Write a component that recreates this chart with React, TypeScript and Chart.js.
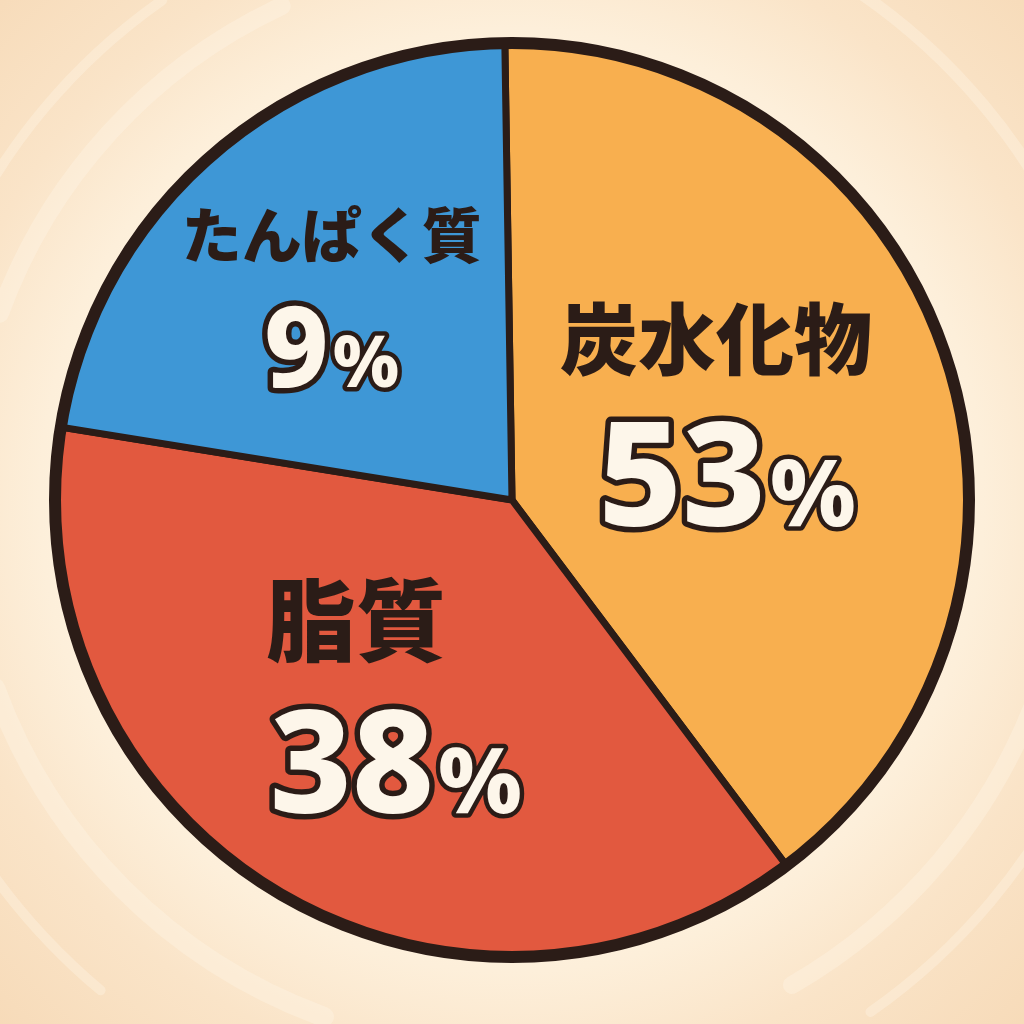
import React, { useEffect, useRef } from "react";
import { Chart, registerables } from "chart.js";

Chart.register(...registerables);

// Slice names and printed percentages (as written on the chart)
const categories = ["炭水化物", "脂質", "たんぱく質"];
const printedPercent = ["53", "38", "9"];
// Slice shares as drawn in the picture (measured angles, in % of the circle)
const sliceShares = [40.0, 37.8, 22.2];
const sliceColors = ["#F8AF4F", "#E2593F", "#3E97D6"];

const INK = "#2B1C17";
const CREAM = "#FDF6EA";

// label layout per slice
const labelLayout = [
  { dAng: -5.1, rFrac: 0.503, nameSize: 78, nameDx: -6, nameDy: -67, pctDx: 5, digitSize: 145, baseDy: 119 },
  { dAng: 4.5, rFrac: 0.511, nameSize: 90, nameDx: -20, nameDy: -70, pctDx: 20, digitSize: 142, baseDy: 123 },
  { dAng: 0, rFrac: 0.603, nameSize: 60, nameDx: 0, nameDy: -56, pctDx: 0, digitSize: 112, baseDy: 95 },
];

const bgPlugin = {
  id: "bgPlugin",
  beforeDraw(chart: any) {
    const ctx = chart.ctx;
    const w = chart.width, h = chart.height;
    const arc = chart.getDatasetMeta(0).data[0];
    const cx = arc.x, cy = arc.y;
    ctx.save();
    const g = ctx.createRadialGradient(cx, cy, 400, cx, cy, 760);
    g.addColorStop(0, "#FEF3E1");
    g.addColorStop(0.2, "#FDEFDA");
    g.addColorStop(0.5, "#FAE4C8");
    g.addColorStop(1, "#F6D9B6");
    ctx.fillStyle = g;
    ctx.fillRect(0, 0, w, h);
    const swirls = [
      { r: 545, a0: 200, a1: 245, lw: 18 },
      { r: 610, a0: 205, a1: 235, lw: 10 },
      { r: 560, a0: 20, a1: 60, lw: 18 },
      { r: 625, a0: 25, a1: 55, lw: 10 },
      { r: 550, a0: 110, a1: 160, lw: 20 },
      { r: 615, a0: 300, a1: 340, lw: 12 },
      { r: 640, a0: 130, a1: 150, lw: 10 },
    ];
    ctx.strokeStyle = "rgba(255,246,232,0.35)";
    ctx.lineCap = "round";
    for (const s of swirls) {
      ctx.lineWidth = s.lw;
      ctx.beginPath();
      ctx.arc(cx, cy, s.r, (s.a0 * Math.PI) / 180, (s.a1 * Math.PI) / 180);
      ctx.stroke();
    }
    ctx.restore();
  },
};

const ringPlugin = {
  id: "ringPlugin",
  afterDatasetsDraw(chart: any) {
    const ctx = chart.ctx;
    const arc = chart.getDatasetMeta(0).data[0];
    ctx.save();
    ctx.strokeStyle = INK;
    ctx.lineWidth = 12;
    ctx.beginPath();
    ctx.arc(arc.x, arc.y, arc.outerRadius, 0, Math.PI * 2);
    ctx.stroke();
    ctx.restore();
  },
};

const labelPlugin = {
  id: "labelPlugin",
  afterDraw(chart: any) {
    const ctx = chart.ctx;
    const arcs = chart.getDatasetMeta(0).data;
    ctx.save();
    arcs.forEach((arc: any, i: number) => {
      const L = labelLayout[i];
      const mid = (arc.startAngle + arc.endAngle) / 2 + (L.dAng * Math.PI) / 180;
      const ax = arc.x + Math.cos(mid) * arc.outerRadius * L.rFrac;
      const ay = arc.y + Math.sin(mid) * arc.outerRadius * L.rFrac;
      ctx.font = `900 ${L.nameSize}px "Noto Sans CJK JP", sans-serif`;
      ctx.textAlign = "center";
      ctx.textBaseline = "middle";
      ctx.fillStyle = INK;
      ctx.fillText(categories[i], ax + L.nameDx, ay + L.nameDy);
      const digitFont = `800 ${L.digitSize}px "Noto Sans", sans-serif`;
      const pctSize = Math.round(L.digitSize * 0.64);
      const pctFont = `800 ${pctSize}px "Noto Sans", sans-serif`;
      ctx.font = digitFont;
      const dW = ctx.measureText(printedPercent[i]).width;
      ctx.font = pctFont;
      const pW = ctx.measureText("%").width;
      const gap = 4;
      const total = dW + gap + pW;
      const x0 = ax + L.pctDx - total / 2;
      const by = ay + L.baseDy;
      ctx.textAlign = "left";
      ctx.textBaseline = "alphabetic";
      ctx.lineJoin = "round";
      ctx.lineWidth = 11;
      ctx.strokeStyle = INK;
      ctx.fillStyle = CREAM;
      ctx.font = digitFont;
      ctx.strokeText(printedPercent[i], x0, by);
      ctx.fillText(printedPercent[i], x0, by);
      ctx.font = pctFont;
      ctx.lineWidth = 9;
      ctx.strokeText("%", x0 + dW + gap, by);
      ctx.fillText("%", x0 + dW + gap, by);
    });
    ctx.restore();
  },
};

export default function App() {
  const ref = useRef<HTMLCanvasElement>(null);
  useEffect(() => {
    if (!ref.current) return;
    const chart = new Chart(ref.current, {
      type: "pie",
      data: {
        labels: categories,
        datasets: [
          {
            data: sliceShares,
            backgroundColor: sliceColors,
            borderColor: INK,
            borderWidth: 7,
            borderJoinStyle: "miter" as any,
          },
        ],
      },
      options: {
        responsive: false,
        devicePixelRatio: 1,
        animation: false,
        rotation: -0.9,
        layout: { padding: { left: 51.5, right: 51.5, top: 39.5, bottom: 63.5 } },
        plugins: { legend: { display: false }, tooltip: { enabled: false } },
        events: [],
      },
      plugins: [bgPlugin, ringPlugin, labelPlugin],
    });
    return () => chart.destroy();
  }, []);
  return (
    <div style={{ position: "absolute", left: 0, top: 0, width: 1024, height: 1024 }}>
      <canvas ref={ref} width={1024} height={1024} style={{ width: 1024, height: 1024, display: "block" }} />
    </div>
  );
}
